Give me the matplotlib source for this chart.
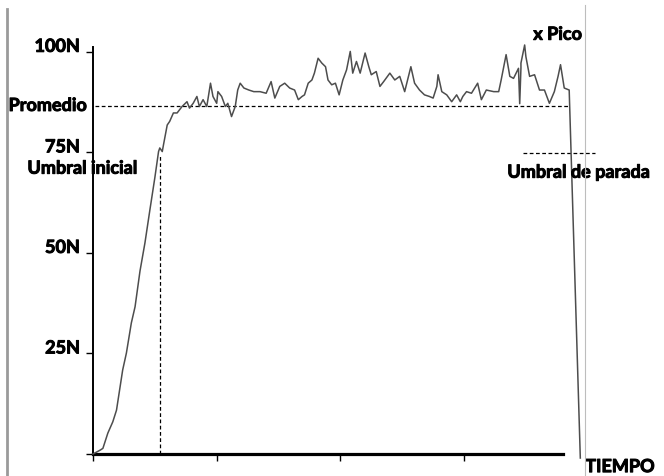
import matplotlib.pyplot as plt
import matplotlib.patheffects as pe
from matplotlib.lines import Line2D

# force curve: time (s) and force (N)
time_s = [
    0.00, 0.03, 0.06, 0.08, 0.12, 0.16, 0.19, 0.24, 0.27, 0.31, 0.34, 0.38,
    0.42, 0.46, 0.50, 0.53, 0.54, 0.56, 0.57, 0.60, 0.62, 0.65, 0.68, 0.72,
    0.76, 0.78, 0.81, 0.84, 0.86, 0.89, 0.92, 0.95, 0.97, 1.00, 1.01, 1.04,
    1.07, 1.09, 1.12, 1.15, 1.17, 1.19, 1.22, 1.26, 1.30, 1.35, 1.40, 1.44,
    1.47, 1.51, 1.55, 1.59, 1.63, 1.66, 1.69, 1.71, 1.74, 1.77, 1.79, 1.82,
    1.85, 1.88, 1.90, 1.93, 1.96, 1.99, 2.02, 2.05, 2.08, 2.10, 2.13, 2.16,
    2.20, 2.23, 2.25, 2.29, 2.32, 2.35, 2.40, 2.44, 2.48, 2.52, 2.57, 2.60,
    2.64, 2.68, 2.72, 2.75, 2.78, 2.79, 2.82, 2.86, 2.90, 2.94, 2.97, 2.99,
    3.02, 3.06, 3.11, 3.14, 3.18, 3.24, 3.28, 3.30, 3.34, 3.37, 3.40, 3.44,
    3.45, 3.46, 3.46, 3.49, 3.50, 3.53, 3.57, 3.61, 3.65, 3.69, 3.73, 3.76,
    3.78, 3.81, 3.85, 3.94,
]
force_n = [
    0.0, 0.5, 1.0, 1.4, 5.2, 8.0, 10.9, 20.9, 25.1, 32.6, 36.6, 45.5,
    52.5, 60.7, 68.7, 75.2, 76.1, 75.2, 76.9, 81.8, 82.7, 84.8, 84.8, 86.4,
    87.6, 86.0, 87.2, 88.9, 86.4, 88.1, 86.4, 92.2, 88.9, 87.2, 90.1, 88.9,
    86.4, 87.2, 83.9, 86.4, 90.5, 92.2, 91.0, 90.5, 90.1, 90.1, 89.7, 92.6,
    88.5, 91.4, 92.2, 91.0, 90.5, 88.1, 88.9, 89.3, 92.2, 93.0, 94.7, 98.4,
    97.2, 96.3, 93.0, 91.8, 92.2, 89.3, 93.0, 95.5, 100.1, 94.7, 97.6, 94.7,
    99.7, 96.3, 94.3, 95.1, 91.4, 92.6, 94.7, 93.0, 93.9, 90.1, 96.3, 92.2,
    90.5, 89.3, 88.9, 88.5, 91.4, 94.3, 90.1, 89.3, 87.6, 89.3, 87.6, 88.9,
    90.1, 89.7, 92.2, 88.1, 90.5, 90.1, 90.1, 93.0, 99.3, 93.9, 93.4, 95.9,
    87.1, 96.0, 97.2, 101.7, 98.8, 93.9, 94.3, 90.5, 90.5, 87.2, 90.1, 93.9,
    96.8, 91.0, 90.5, -1.0,
]

y_ticks = [0, 25, 50, 75, 100]
y_tick_labels = ["", "25N", "50N", "75N", "100N"]
x_ticks = [0, 1, 2, 3]

promedio_n = 86.6
promedio_span = (0.02, 3.85)
umbral_inicial_t = 0.54
umbral_inicial_n = 74.5
umbral_parada_n = 74.9
umbral_parada_span = (3.48, 4.06)

plt.rcParams["font.family"] = ["Lato", "DejaVu Sans"]

W, H = 664, 476
fig = plt.figure(figsize=(W / 100, H / 100), dpi=100)
fig.patch.set_facecolor("white")

# axes box in pixels: left spine x=93, bottom y=454, right end x=563, top y=47
ax = fig.add_axes([93 / W, (H - 454) / H, (563 - 93) / W, (454 - 47) / H])
ax.set_xlim(0, 3.80)
ax.set_ylim(0, 101.2)

ax.plot(time_s, force_n, color="#4d4d4d", lw=1.1, clip_on=False, zorder=3)

dash = (0, (3, 2))
ax.plot(promedio_span, [promedio_n] * 2, color="black", lw=0.9, ls=dash, clip_on=False)
ax.plot([umbral_inicial_t] * 2, [0, umbral_inicial_n], color="black", lw=0.9, ls=dash, clip_on=False)
ax.plot(umbral_parada_span, [umbral_parada_n] * 2, color="black", lw=0.9, ls=dash, clip_on=False)

for s in ("top", "right"):
    ax.spines[s].set_visible(False)
ax.spines["left"].set_linewidth(1.4)
ax.spines["bottom"].set_linewidth(2.3)

# the original font is heavier than Lato Bold, thicken it a bit
heavy = [pe.withStroke(linewidth=0.7, foreground="black")]
txt = dict(fontsize=13, fontweight="bold", color="black", va="baseline",
           path_effects=heavy)

ax.set_yticks(y_ticks)
ax.set_yticklabels([])
ax.tick_params(axis="y", direction="out", length=5, width=1.0)
for v, lab in zip(y_ticks, y_tick_labels):
    ax.text(-0.105, v, lab, ha="right", **txt)
ax.set_xticks(x_ticks)
ax.set_xticklabels([])
ax.tick_params(axis="x", direction="out", length=5, width=1.0)

ax.text(-0.05, 85.3, "Promedio", ha="right", **txt)
ax.text(-0.53, 69.7, "Umbral inicial", ha="left", **txt)
ax.text(3.56, 103.0, "x Pico", ha="left", **txt)
ax.text(3.35, 68.7, "Umbral de parada", ha="left", **txt)
ax.text(3.98, -4.5, "TIEMPO", ha="left", **txt)

# page rules left and right
fig.add_artist(Line2D([6.5 / W] * 2, [0, 1 - 9 / H], transform=fig.transFigure,
                      color="#9a9a9a", lw=2.0))
fig.add_artist(Line2D([584.5 / W] * 2, [0, 1 - 5 / H], transform=fig.transFigure,
                      color="#bdbdbd", lw=0.8))

fig.savefig("out.png", dpi=100)
